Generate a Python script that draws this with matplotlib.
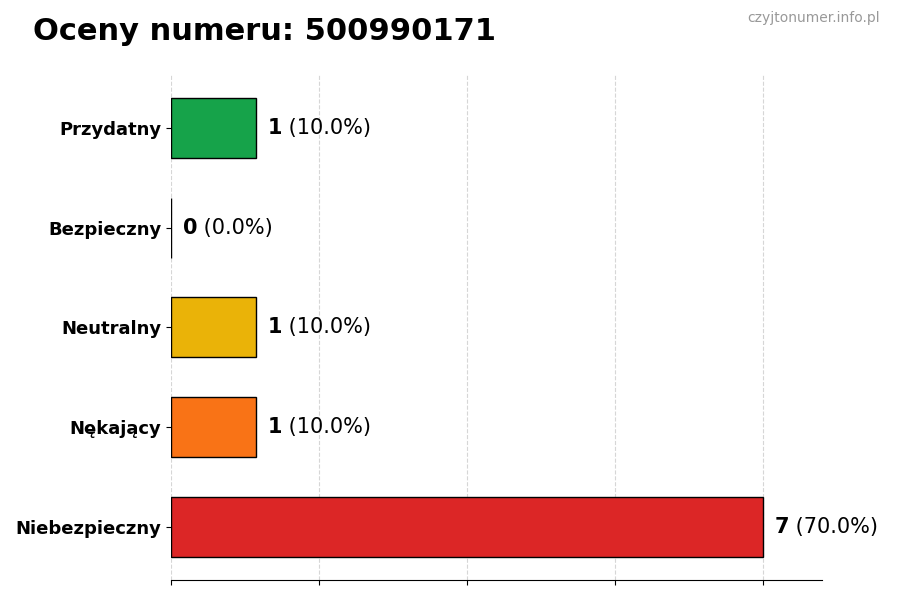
import matplotlib
matplotlib.use("Agg")
import matplotlib.pyplot as plt
import numpy as np

NUMBER = "500990171"
CATEGORIES = ["Przydatny", "Bezpieczny", "Neutralny", "Nękający", "Niebezpieczny"]
COUNTS = [1, 0, 1, 1, 7]
COLORS = ["#16a34a", "#3b82f6", "#eab308", "#f97316", "#dc2626"]

total = sum(COUNTS)
max_count = max(COUNTS)

fig = plt.figure(figsize=(9, 6), dpi=100)
ax = fig.add_axes([0.19, 0.0333, 0.723, 0.842])

y = np.arange(len(CATEGORIES))[::-1]
ax.barh(y, COUNTS, height=0.6, color=COLORS, edgecolor="black", linewidth=1, zorder=3)

ax.set_yticks(y)
ax.set_yticklabels(CATEGORIES, fontsize=13, fontweight="bold")
ax.set_xlim(0, max_count * 1.1)
ax.set_xticks(np.linspace(0, max_count, 5))
ax.set_xticklabels([])
ax.grid(axis="x", linestyle="--", color="#cccccc", alpha=0.8, zorder=0)

for spine in ["top", "right", "left"]:
    ax.spines[spine].set_visible(False)

for yi, c in zip(y, COUNTS):
    pct = c / total * 100
    t = ax.text(c + max_count * 0.02, yi, f"{c}", fontsize=15, fontweight="bold",
                va="center", ha="left")
    ax.annotate(f" ({pct:.1f}%)", xy=(1, 0.5), xycoords=t, fontsize=15,
                va="center", ha="left")

fig.text(0.037, 0.947, f"Oceny numeru: {NUMBER}", fontsize=22, fontweight="bold",
         ha="left", va="center")
fig.text(0.978, 0.97, "czyjtonumer.info.pl", fontsize=10, color="#999999",
         ha="right", va="center")

fig.savefig("out.png", dpi=100)
